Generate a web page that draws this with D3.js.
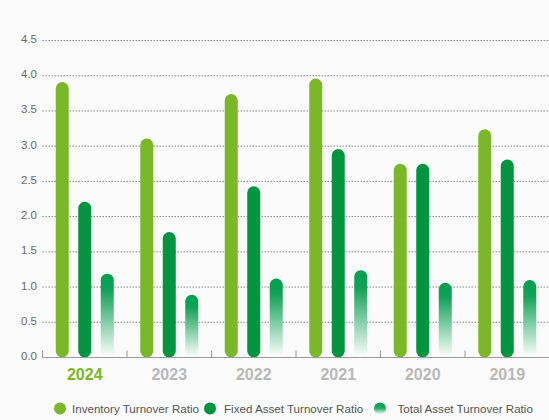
<!DOCTYPE html>
<html><head><meta charset="utf-8">
<script src="https://cdn.jsdelivr.net/npm/d3@7/dist/d3.min.js"></script>
<style>body{margin:0;background:#fafbfa;}svg{display:block;}</style>
</head><body>
<svg id="c" width="549" height="420"></svg>
<script>
const years = ["2024","2023","2022","2021","2020","2019"];
const inventory = [3.91, 3.11, 3.74, 3.96, 2.75, 3.24];
const fixedAsset = [2.21, 1.78, 2.43, 2.96, 2.75, 2.81];
const totalAsset = [1.19, 0.89, 1.12, 1.24, 1.06, 1.10];
const yTicks = [0, 0.5, 1, 1.5, 2, 2.5, 3, 3.5, 4, 4.5];
const seriesNames = ["Inventory Turnover Ratio", "Fixed Asset Turnover Ratio", "Total Asset Turnover Ratio"];

const svg = d3.select("#c");
const W = 549, H = 420;
const left = 42.5, right = 549.5, y0 = 357.5, yTop = 40.5;
const font = "Liberation Sans, Arial, sans-serif";

const defs = svg.append("defs");
const g1 = defs.append("linearGradient").attr("id","tg").attr("x1",0).attr("y1",0).attr("x2",0).attr("y2",1);
g1.append("stop").attr("offset","0%").attr("stop-color","#00a04f");
g1.append("stop").attr("offset","20%").attr("stop-color","#12a258");
g1.append("stop").attr("offset","100%").attr("stop-color","#ffffff");
const g2 = defs.append("linearGradient").attr("id","lg").attr("x1",0).attr("y1",0).attr("x2",0).attr("y2",1);
g2.append("stop").attr("offset","0%").attr("stop-color","#00a04f");
g2.append("stop").attr("offset","45%").attr("stop-color","#1aa55c");
g2.append("stop").attr("offset","100%").attr("stop-color","#ffffff");

svg.append("rect").attr("width",W).attr("height",H).attr("fill","#fafbfa");

const x = d3.scaleBand().domain(years).range([left, right]);
const y = d3.scaleLinear().domain([0, 4.5]).range([y0, yTop]);

// gridlines
svg.append("g").selectAll("line").data(yTicks.filter(d => d > 0)).join("line")
  .attr("x1", left).attr("x2", 549).attr("y1", d => y(d)).attr("y2", d => y(d))
  .attr("stroke", "#8a8a8a").attr("stroke-width", 1).attr("stroke-dasharray", "1.5,1.5");

// y labels
svg.append("g").selectAll("text").data(yTicks).join("text")
  .attr("x", 37).attr("y", d => y(d) - 1.5).attr("dy", "0.35em").attr("text-anchor", "end")
  .attr("font-family", font).attr("font-size", 11.5).attr("fill", "#6a6a6a")
  .text(d => d.toFixed(1));

// bars
const bw = 13, off = 22.5;
const series = [
  {vals: inventory, fill: "#7ab829", dx: -off},
  {vals: fixedAsset, fill: "#00953e", dx: 0},
  {vals: totalAsset, fill: "url(#tg)", dx: off}
];
series.forEach(s => {
  svg.append("g").selectAll("rect").data(years).join("rect")
    .attr("x", (d) => x(d) + x.bandwidth()/2 + s.dx - bw/2)
    .attr("y", (d, i) => y(s.vals[i]))
    .attr("width", bw)
    .attr("height", (d, i) => y0 - y(s.vals[i]))
    .attr("rx", bw/2).attr("ry", bw/2)
    .attr("fill", s.fill);
});

// x axis line and ticks
svg.append("line").attr("x1", left).attr("x2", 549).attr("y1", y0).attr("y2", y0)
  .attr("stroke", "#9a9a9a").attr("stroke-width", 1);
svg.append("g").selectAll("line").data(years).join("line")
  .attr("x1", d => x(d)).attr("x2", d => x(d)).attr("y1", y0).attr("y2", y0 - 7)
  .attr("stroke", "#9a9a9a").attr("stroke-width", 1);

// x labels
svg.append("g").selectAll("text").data(years).join("text")
  .attr("x", d => x(d) + x.bandwidth()/2).attr("y", 374.5).attr("dy", "0.35em")
  .attr("text-anchor", "middle").attr("font-family", font)
  .attr("font-size", 16).attr("font-weight", "bold")
  .attr("fill", (d, i) => i === 0 ? "#7ab829" : "#b8b8b8")
  .text(d => d);

// legend
const legend = [
  {cx: 60, tx: 72, fill: "#7ab829"},
  {cx: 210, tx: 224, fill: "#00953e"},
  {cx: 380, tx: 397.5, fill: "url(#lg)"}
];
const lg = svg.append("g");
legend.forEach((l, i) => {
  lg.append("circle").attr("cx", l.cx).attr("cy", 408.5).attr("r", 6).attr("fill", l.fill);
  lg.append("text").attr("x", l.tx).attr("y", 408.5).attr("dy", "0.35em")
    .attr("font-family", font).attr("font-size", 11.6).attr("fill", "#555")
    .text(seriesNames[i]);
});
</script>
</body></html>
